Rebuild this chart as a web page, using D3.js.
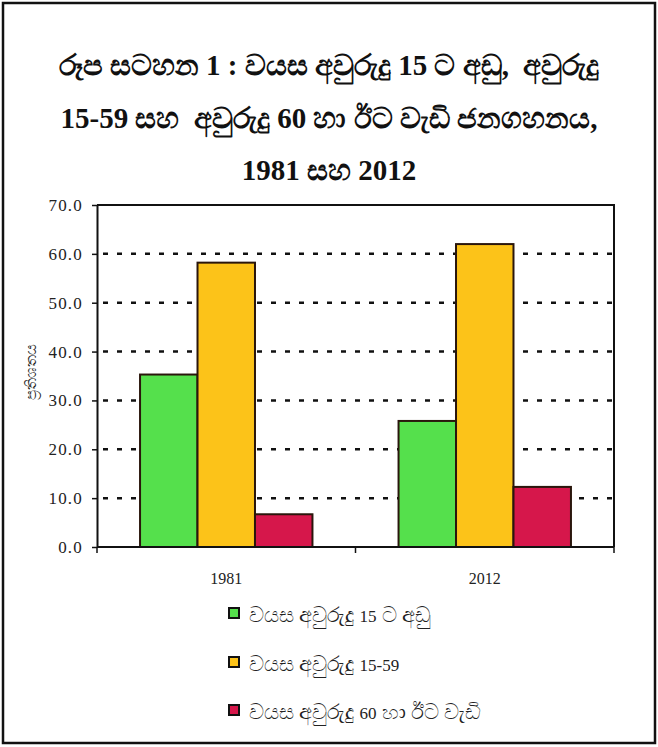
<!DOCTYPE html>
<html>
<head>
<meta charset="utf-8">
<script src="https://cdn.jsdelivr.net/npm/d3@7"></script>
<style>
  html, body { margin: 0; padding: 0; background: #fff; }
  svg { display: block; }
  text, tspan { white-space: pre; }
</style>
</head>
<body>
<svg id="chart" width="658" height="747"></svg>
<script>
// ---- data ----
const titleLines = [
  "රූප සටහන 1 : වයස අවුරුදු 15 ට අඩු,  අවුරුදු",
  "15-59 සහ  අවුරුදු 60 හා ඊට වැඩි ජනගහනය,",
  "1981 සහ 2012"
];
const years = ["1981", "2012"];
const seriesNames = [
  "වයස අවුරුදු 15 ට අඩු",
  "වයස අවුරුදු 15-59",
  "වයස අවුරුදු 60 හා ඊට වැඩි"
];
const under15 = [35.3, 25.8];
const age15to59 = [58.2, 62.0];
const over60 = [6.7, 12.3];
const yTicks = [0, 10, 20, 30, 40, 50, 60, 70];
const yAxisTitle = "ප්‍රතිශතය";
const seriesColors = ["#55e04c", "#fcc319", "#d6174b"];

const seriesValues = [under15, age15to59, over60];

const SERIF = "'Liberation Serif', 'Times New Roman', serif";

// split a mixed string into Latin (digits/punct) and Sinhala runs
function runs(str) {
  const out = [];
  const re = /[0-9:,\-\.]+/g;
  let last = 0, m;
  while ((m = re.exec(str)) !== null) {
    if (m.index > last) out.push({ t: str.slice(last, m.index), latin: false });
    out.push({ t: m[0], latin: true });
    last = m.index + m[0].length;
  }
  if (last < str.length) out.push({ t: str.slice(last), latin: false });
  return out;
}
function mixedText(sel, latinStyle, sinhalaStyle) {
  sel.each(function (d) {
    const t = d3.select(this);
    runs(d).forEach(r => {
      const ts = t.append("tspan").text(r.t);
      const st = r.latin ? latinStyle : sinhalaStyle;
      Object.entries(st).forEach(([k, v]) => ts.attr(k, v));
    });
  });
}

// ---- layout ----
const svg = d3.select("#chart");
const W = 658, H = 747;
const plot = { left: 97, right: 614, top: 205, bottom: 547 };

// outer frame
svg.append("rect")
  .attr("x", 3).attr("y", 3).attr("width", W - 6).attr("height", H - 7)
  .attr("fill", "none").attr("stroke", "#111").attr("stroke-width", 2.5);

// title
const titleBaselines = [75, 128, 180];
svg.append("g").selectAll("text").data(titleLines).join("text")
  .attr("x", 329).attr("y", (d, i) => titleBaselines[i])
  .attr("text-anchor", "middle")
  .attr("font-family", SERIF)
  .attr("fill", "#111")
  .call(mixedText,
    { "font-weight": "bold", "font-size": 29 },
    { "font-weight": "bold", "font-size": 29 });

// scales
const y = d3.scaleLinear().domain([0, 70]).range([plot.bottom, plot.top]);
const x0 = d3.scaleBand().domain(years).range([plot.left, plot.right])
  .paddingInner(0.333).paddingOuter(0.1665);
const x1 = d3.scaleBand().domain(d3.range(seriesValues.length))
  .range([0, x0.bandwidth()]).padding(0);

// gridlines
svg.append("g").selectAll("line").data(yTicks.filter(t => t > 0 && t < 70)).join("line")
  .attr("x1", plot.left + 6).attr("x2", plot.right - 2)
  .attr("y1", d => y(d)).attr("y2", d => y(d))
  .attr("stroke", "#111").attr("stroke-width", 2.5)
  .attr("stroke-dasharray", "5,9");

// plot frame (top + right)
svg.append("path")
  .attr("d", `M${plot.left},${plot.top}H${plot.right}V${plot.bottom}`)
  .attr("fill", "none").attr("stroke", "#111").attr("stroke-width", 2);

// bars
const barData = [];
years.forEach((yr, gi) => {
  seriesValues.forEach((vals, si) => barData.push({ yr, si, v: vals[gi] }));
});
svg.append("g").selectAll("rect").data(barData).join("rect")
  .attr("x", d => x0(d.yr) + x1(d.si))
  .attr("width", x1.bandwidth())
  .attr("y", d => y(d.v))
  .attr("height", d => y(0) - y(d.v))
  .attr("fill", d => seriesColors[d.si])
  .attr("stroke", "#2a160c").attr("stroke-width", 2);

// y axis
const yAxis = d3.axisLeft(y).tickValues(yTicks).tickFormat(d3.format(".1f"))
  .tickSize(5).tickSizeOuter(0);
const gy = svg.append("g").attr("transform", `translate(${plot.left},0)`).call(yAxis)
  .attr("font-family", SERIF).attr("font-size", 17);
gy.select(".domain").attr("stroke", "#111").attr("stroke-width", 2);
gy.selectAll(".tick line").attr("stroke", "#111").attr("stroke-width", 1.5);
gy.selectAll(".tick text")
  .style("font-family", SERIF).style("font-size", "17px")
  .attr("fill", "#222").attr("x", -14)
  .attr("letter-spacing", 1.2);

// x axis with ticks at group boundaries
svg.append("line")
  .attr("x1", plot.left).attr("x2", plot.right)
  .attr("y1", plot.bottom).attr("y2", plot.bottom)
  .attr("stroke", "#111").attr("stroke-width", 2);
const boundaries = [plot.left, (x0(years[0]) + x0.bandwidth() + x0(years[1])) / 2, plot.right];
svg.append("g").selectAll("line").data(boundaries).join("line")
  .attr("x1", d => d).attr("x2", d => d)
  .attr("y1", plot.bottom).attr("y2", plot.bottom + 6)
  .attr("stroke", "#111").attr("stroke-width", 1.5);
svg.append("g").selectAll("text").data(years).join("text")
  .attr("x", d => x0(d) + x0.bandwidth() / 2).attr("y", 584)
  .attr("text-anchor", "middle")
  .style("font-family", SERIF)
  .attr("font-size", 16).attr("fill", "#222")
  .text(d => d);

// y axis title
svg.append("text")
  .attr("transform", "translate(36,372) rotate(-90)")
  .attr("text-anchor", "middle")
  .attr("font-family", SERIF)
  .attr("font-size", 15).attr("fill", "#222")
  .text(yAxisTitle);

// legend
const legendY = [608, 657, 705];
const lg = svg.append("g").selectAll("g").data(seriesNames).join("g")
  .attr("transform", (d, i) => `translate(229,${legendY[i]})`);
lg.append("rect").attr("width", 10).attr("height", 10)
  .attr("fill", (d, i) => seriesColors[i])
  .attr("stroke", "#111").attr("stroke-width", 2);
lg.append("text").attr("x", 20).attr("y", 14)
  .attr("font-family", SERIF)
  .attr("fill", "#222")
  .call(mixedText, { "font-size": 17 }, { "font-size": 21 });
</script>
</body>
</html>
